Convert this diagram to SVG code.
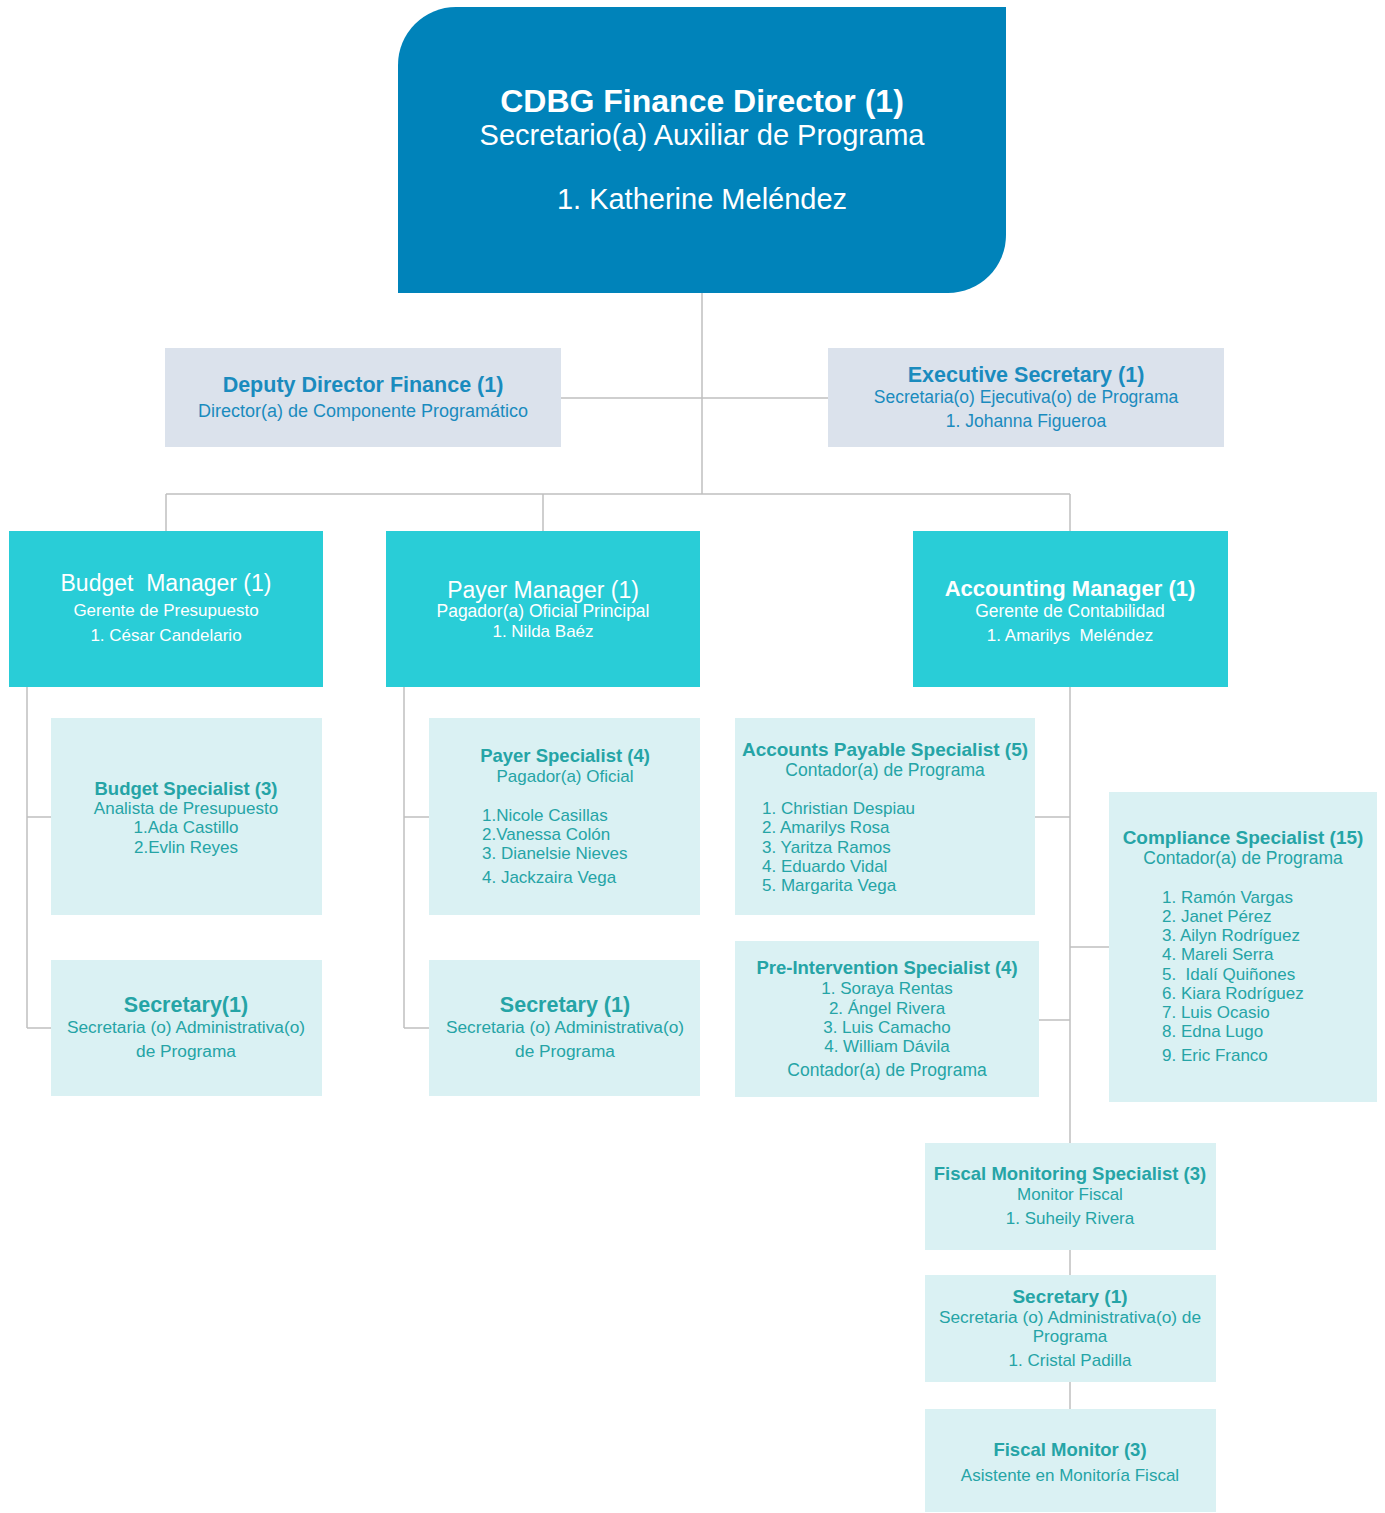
<svg xmlns="http://www.w3.org/2000/svg" width="1385" height="1513" viewBox="0 0 1385 1513">
<style>
text{font-family:"Liberation Sans",Arial,sans-serif;text-anchor:middle}
.top{fill:#0083BA}
.dep{fill:#DBE2EC}
.mgr{fill:#29CDD7}
.spc{fill:#DAF1F3}
.w{fill:#FFFFFF}
.b{fill:#1A8BBE}
.t{fill:#25A4A6}
.h{font-weight:bold}
.l{text-anchor:start}
.conn line{stroke:#BFBFBF;stroke-width:1.5}
</style>
<rect width="1385" height="1513" fill="#FFFFFF"/>
<g id="connectors" class="conn">
<line x1="702" y1="293" x2="702" y2="494"/>
<line x1="561" y1="398" x2="828" y2="398"/>
<line x1="166" y1="494" x2="1070" y2="494"/>
<line x1="166" y1="494" x2="166" y2="531"/>
<line x1="543" y1="494" x2="543" y2="531"/>
<line x1="1070" y1="494" x2="1070" y2="531"/>
<line x1="27" y1="687" x2="27" y2="1028"/>
<line x1="27" y1="817" x2="51" y2="817"/>
<line x1="27" y1="1028" x2="51" y2="1028"/>
<line x1="404" y1="687" x2="404" y2="1028"/>
<line x1="404" y1="817" x2="429" y2="817"/>
<line x1="404" y1="1028" x2="429" y2="1028"/>
<line x1="1070" y1="687" x2="1070" y2="1143"/>
<line x1="1035" y1="817" x2="1070" y2="817"/>
<line x1="1070" y1="947" x2="1109" y2="947"/>
<line x1="1039" y1="1020" x2="1070" y2="1020"/>
<line x1="1070" y1="1250" x2="1070" y2="1275"/>
<line x1="1070" y1="1382" x2="1070" y2="1409"/>
</g>
<g id="director">
<path class="top" d="M456,7 H1006 V235 A58,58 0 0 1 948,293 H398 V65 A58,58 0 0 1 456,7 Z"/>
<text x="702" y="112" class="w h" font-size="32">CDBG Finance Director (1)</text>
<text x="702" y="145" class="w" font-size="29">Secretario(a) Auxiliar de Programa</text>
<text x="702" y="209" class="w" font-size="29">1. Katherine Meléndez</text>
</g>
<g id="deputy">
<rect class="dep" x="165" y="348" width="396" height="99"/>
<text x="363" y="392" class="b h" font-size="21.5">Deputy Director Finance (1)</text>
<text x="363" y="417" class="b" font-size="18">Director(a) de Componente Programático</text>
</g>
<g id="executive">
<rect class="dep" x="828" y="348" width="396" height="99"/>
<text x="1026" y="382" class="b h" font-size="21.5">Executive Secretary (1)</text>
<text x="1026" y="403" class="b" font-size="17.5">Secretaria(o) Ejecutiva(o) de Programa</text>
<text x="1026" y="427" class="b" font-size="17.5">1. Johanna Figueroa</text>
</g>
<g id="budget-manager">
<rect class="mgr" x="9" y="531" width="314" height="156"/>
<text x="166" y="591" class="w" font-size="23" xml:space="preserve">Budget  Manager (1)</text>
<text x="166" y="616" class="w" font-size="17">Gerente de Presupuesto</text>
<text x="166" y="641" class="w" font-size="17">1. César Candelario</text>
</g>
<g id="payer-manager">
<rect class="mgr" x="386" y="531" width="314" height="156"/>
<text x="543" y="598" class="w" font-size="23">Payer Manager (1)</text>
<text x="543" y="617" class="w" font-size="17.5">Pagador(a) Oficial Principal</text>
<text x="543" y="637" class="w" font-size="17">1. Nilda Baéz</text>
</g>
<g id="accounting-manager">
<rect class="mgr" x="913" y="531" width="315" height="156"/>
<text x="1070" y="596" class="w h" font-size="22">Accounting Manager (1)</text>
<text x="1070" y="617" class="w" font-size="17.5">Gerente de Contabilidad</text>
<text x="1070" y="641" class="w" font-size="17" xml:space="preserve">1. Amarilys  Meléndez</text>
</g>
<g id="budget-specialist">
<rect class="spc" x="51" y="718" width="271" height="197"/>
<text x="186" y="795" class="t h" font-size="18.5">Budget Specialist (3)</text>
<text x="186" y="814" class="t" font-size="17">Analista de Presupuesto</text>
<text x="186" y="833" class="t" font-size="17">1.Ada Castillo</text>
<text x="186" y="853" class="t" font-size="17">2.Evlin Reyes</text>
</g>
<g id="budget-secretary">
<rect class="spc" x="51" y="960" width="271" height="136"/>
<text x="186" y="1012" class="t h" font-size="21.5">Secretary(1)</text>
<text x="186" y="1033" class="t" font-size="17.3">Secretaria (o) Administrativa(o)</text>
<text x="186" y="1057" class="t" font-size="17.3">de Programa</text>
</g>
<g id="payer-specialist">
<rect class="spc" x="429" y="718" width="271" height="197"/>
<text x="565" y="762" class="t h" font-size="18.5">Payer Specialist (4)</text>
<text x="565" y="782" class="t" font-size="17">Pagador(a) Oficial</text>
<text x="482" y="821" class="t l" font-size="17">1.Nicole Casillas</text>
<text x="482" y="840" class="t l" font-size="17">2.Vanessa Colón</text>
<text x="482" y="859" class="t l" font-size="17">3. Dianelsie Nieves</text>
<text x="482" y="883" class="t l" font-size="17">4. Jackzaira Vega</text>
</g>
<g id="payer-secretary">
<rect class="spc" x="429" y="960" width="271" height="136"/>
<text x="565" y="1012" class="t h" font-size="21.5">Secretary (1)</text>
<text x="565" y="1033" class="t" font-size="17.3">Secretaria (o) Administrativa(o)</text>
<text x="565" y="1057" class="t" font-size="17.3">de Programa</text>
</g>
<g id="accounts-payable">
<rect class="spc" x="735" y="718" width="300" height="197"/>
<text x="885" y="756" class="t h" font-size="19">Accounts Payable Specialist (5)</text>
<text x="885" y="776" class="t" font-size="17.5">Contador(a) de Programa</text>
<text x="762" y="814" class="t l" font-size="17">1. Christian Despiau</text>
<text x="762" y="833" class="t l" font-size="17">2. Amarilys Rosa</text>
<text x="762" y="853" class="t l" font-size="17">3. Yaritza Ramos</text>
<text x="762" y="872" class="t l" font-size="17">4. Eduardo Vidal</text>
<text x="762" y="891" class="t l" font-size="17">5. Margarita Vega</text>
</g>
<g id="pre-intervention">
<rect class="spc" x="735" y="941" width="304" height="156"/>
<text x="887" y="974" class="t h" font-size="18.5">Pre-Intervention Specialist (4)</text>
<text x="887" y="994" class="t" font-size="17">1. Soraya Rentas</text>
<text x="887" y="1014" class="t" font-size="17">2. Ángel Rivera</text>
<text x="887" y="1033" class="t" font-size="17">3. Luis Camacho</text>
<text x="887" y="1052" class="t" font-size="17">4. William Dávila</text>
<text x="887" y="1076" class="t" font-size="17.5">Contador(a) de Programa</text>
</g>
<g id="compliance">
<rect class="spc" x="1109" y="792" width="268" height="310"/>
<text x="1243" y="844" class="t h" font-size="19">Compliance Specialist (15)</text>
<text x="1243" y="864" class="t" font-size="17.5">Contador(a) de Programa</text>
<text x="1162" y="903" class="t l" font-size="17">1. Ramón Vargas</text>
<text x="1162" y="922" class="t l" font-size="17">2. Janet Pérez</text>
<text x="1162" y="941" class="t l" font-size="17">3. Ailyn Rodríguez</text>
<text x="1162" y="960" class="t l" font-size="17">4. Mareli Serra</text>
<text x="1162" y="980" class="t l" font-size="17" xml:space="preserve">5.  Idalí Quiñones</text>
<text x="1162" y="999" class="t l" font-size="17">6. Kiara Rodríguez</text>
<text x="1162" y="1018" class="t l" font-size="17">7. Luis Ocasio</text>
<text x="1162" y="1037" class="t l" font-size="17">8. Edna Lugo</text>
<text x="1162" y="1061" class="t l" font-size="17">9. Eric Franco</text>
</g>
<g id="fiscal-monitoring">
<rect class="spc" x="925" y="1143" width="291" height="107"/>
<text x="1070" y="1180" class="t h" font-size="18.5">Fiscal Monitoring Specialist (3)</text>
<text x="1070" y="1200" class="t" font-size="17">Monitor Fiscal</text>
<text x="1070" y="1224" class="t" font-size="17">1. Suheily Rivera</text>
</g>
<g id="fiscal-secretary">
<rect class="spc" x="925" y="1275" width="291" height="107"/>
<text x="1070" y="1303" class="t h" font-size="19">Secretary (1)</text>
<text x="1070" y="1323" class="t" font-size="17.3">Secretaria (o) Administrativa(o) de</text>
<text x="1070" y="1342" class="t" font-size="17">Programa</text>
<text x="1070" y="1366" class="t" font-size="17">1. Cristal Padilla</text>
</g>
<g id="fiscal-monitor">
<rect class="spc" x="925" y="1409" width="291" height="103"/>
<text x="1070" y="1456" class="t h" font-size="18.5">Fiscal Monitor (3)</text>
<text x="1070" y="1481" class="t" font-size="17">Asistente en Monitoría Fiscal</text>
</g>
</svg>
